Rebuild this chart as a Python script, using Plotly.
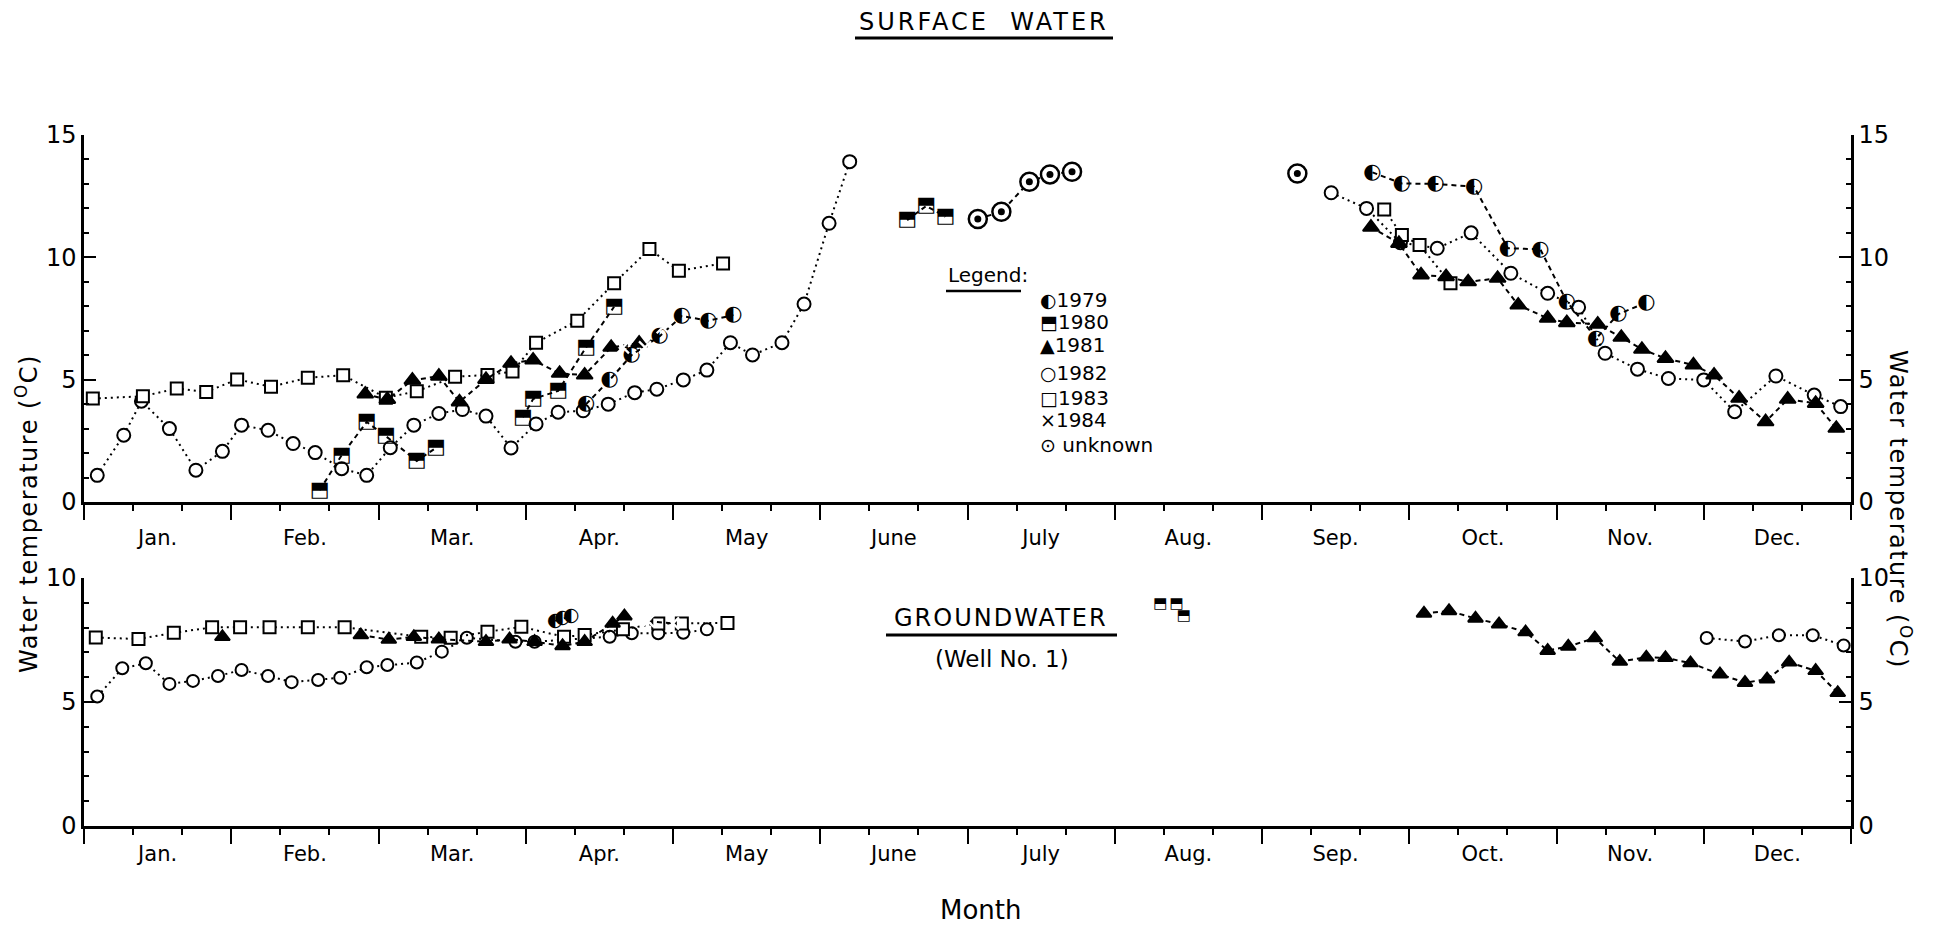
import plotly.graph_objects as go

# ---------------- data (x = position in months from 1 Jan, 0..12; y = water temperature °C) ----------------
month_labels = ["Jan.", "Feb.", "Mar.", "Apr.", "May", "June", "July", "Aug.", "Sep.", "Oct.", "Nov.", "Dec."]

sw_1979_x = [3.41, 3.57, 3.72, 3.91, 4.06, 4.24, 4.41, None, 8.75, 8.95, 9.18, 9.44, 9.67, 9.89, 10.07, 10.27, 10.42, 10.61]
sw_1979_y = [4.0, 4.99, 6.01, 6.78, 7.60, 7.41, 7.64, None, 13.47, 13.02, 13.0, 12.89, 10.37, 10.33, 8.19, 6.69, 7.68, 8.15]

sw_1980_x = [1.60, 1.75, 1.92, 2.05, 2.26, 2.39, None, 2.98, 3.05, 3.22, 3.41, 3.60, None, 5.59, 5.72, 5.85]
sw_1980_y = [0.48, 1.91, 3.27, 2.69, 1.68, 2.21, None, 3.46, 4.21, 4.54, 6.32, 7.98, None, 11.52, 12.10, 11.66]

sw_1981_x = [1.91, 2.06, 2.23, 2.41, 2.55, 2.73, 2.90, 3.05, 3.23, 3.40, 3.58, 3.77, None,
             8.74, 8.93, 9.08, 9.25, 9.40, 9.60, 9.74, 9.94, 10.07, 10.28, 10.44, 10.58, 10.74, 10.93,
             11.07, 11.24, 11.42, 11.57, 11.76, 11.90]
sw_1981_y = [4.41, 4.19, 4.98, 5.14, 4.09, 5.01, 5.67, 5.80, 5.26, 5.19, 6.32, 6.49, None,
             11.23, 10.57, 9.28, 9.21, 9.0, 9.14, 8.05, 7.51, 7.33, 7.27, 6.73, 6.24, 5.87, 5.60,
             5.19, 4.24, 3.28, 4.20, 4.03, 3.01]

sw_1982_x = [0.09, 0.27, 0.39, 0.58, 0.76, 0.94, 1.07, 1.25, 1.42, 1.57, 1.75, 1.92, 2.08, 2.24, 2.41, 2.57,
             2.73, 2.90, 3.07, 3.22, 3.39, 3.56, 3.74, 3.89, 4.07, 4.23, 4.39, 4.54, 4.74, 4.89, 5.06, 5.20, None,
             8.47, 8.71, 8.94, 9.19, 9.42, 9.69, 9.94, 10.15, 10.33, 10.55, 10.76, 11.0, 11.21, 11.49, 11.75, 11.93]
sw_1982_y = [1.09, 2.73, 4.12, 3.00, 1.30, 2.07, 3.14, 2.93, 2.39, 2.02, 1.36, 1.09, 2.22, 3.14, 3.62, 3.78,
             3.51, 2.21, 3.19, 3.67, 3.73, 4.0, 4.47, 4.61, 4.99, 5.39, 6.51, 6.01, 6.51, 8.09, 11.39, 13.91, None,
             12.64, 12.0, 10.6, 10.37, 11.0, 9.35, 8.53, 7.96, 6.08, 5.43, 5.05, 4.99, 3.69, 5.15, 4.37, 3.90]

sw_1983_x = [0.06, 0.40, 0.63, 0.83, 1.04, 1.27, 1.52, 1.76, 2.05, 2.26, 2.52, 2.74, 2.91, 3.07, 3.35, 3.60,
             3.84, 4.04, 4.34, None, 8.83, 8.95, 9.07, 9.28]
sw_1983_y = [4.23, 4.32, 4.64, 4.50, 5.01, 4.71, 5.08, 5.18, 4.26, 4.53, 5.12, 5.19, 5.33, 6.51, 7.41, 8.94,
             10.34, 9.45, 9.75, None, 11.96, 10.91, 10.5, 8.94]

sw_1984_x = [3.66, 3.81, 3.93]
sw_1984_y = [6.32, 6.32, 7.14]

sw_unk_x = [6.07, 6.23, 6.42, 6.56, 6.71, None, 8.24]
sw_unk_y = [11.57, 11.86, 13.09, 13.39, 13.50, None, 13.43]

gw_1979_x = [3.20, 3.25, 3.31]
gw_1979_y = [8.27, 8.37, 8.46]

gw_1980_x = [7.31, 7.42, 7.47]
gw_1980_y = [8.95, 8.94, 8.44]

gw_1981_x = [0.94, None, 1.88, 2.07, 2.24, 2.41, 2.73, 2.89, 3.06, 3.25, 3.40, 3.59, 3.67, None,
             9.10, 9.27, 9.45, 9.61, 9.79, 9.94, 10.08, 10.26, 10.43, 10.61, 10.74, 10.91, 11.11,
             11.28, 11.43, 11.58, 11.76, 11.91]
gw_1981_y = [7.63, None, 7.70, 7.52, 7.63, 7.53, 7.43, 7.53, 7.43, 7.26, 7.43, 8.17, 8.46, None,
             8.57, 8.67, 8.37, 8.14, 7.82, 7.07, 7.24, 7.58, 6.63, 6.80, 6.78, 6.57, 6.12,
             5.78, 5.92, 6.60, 6.26, 5.37]

gw_1982_x = [0.09, 0.26, 0.42, 0.58, 0.74, 0.91, 1.07, 1.25, 1.41, 1.59, 1.74, 1.92, 2.06, 2.26, 2.43, 2.60,
             2.93, 3.06, 3.57, 3.72, 3.90, 4.07, 4.23, None, 11.02, 11.28, 11.51, 11.74, 11.95]
gw_1982_y = [5.22, 6.36, 6.56, 5.73, 5.85, 6.05, 6.29, 6.05, 5.80, 5.89, 5.98, 6.40, 6.49, 6.59, 7.03, 7.59,
             7.43, 7.43, 7.63, 7.77, 7.77, 7.79, 7.93, None, 7.58, 7.44, 7.69, 7.69, 7.28]

gw_1983_x = [0.08, 0.37, 0.61, 0.87, 1.06, 1.26, 1.52, 1.77, 2.29, 2.49, 2.74, 2.97, 3.26, 3.40, 3.66, 3.90, 4.06, 4.37]
gw_1983_y = [7.60, 7.54, 7.79, 8.01, 8.01, 8.01, 8.01, 8.01, 7.63, 7.59, 7.83, 8.03, 7.63, 7.70, 7.93, 8.17, 8.17, 8.19]

gw_1984_x = [3.83, 4.00]
gw_1984_y = [8.26, 8.17]

legend_rows = [("◐", "1979"), ("⬒", "1980"), ("▲", "1981"), ("○", "1982"), ("□", "1983"), ("×", "1984"), ("⊙", " unknown")]

# ---------------- layout geometry ----------------
W, H = 1948, 932
ML, MR, MT, MB = 84, 97, 135, 106
PW, PH = W - ML - MR, H - MT - MB
FONT = "DejaVu Sans"


def px(xp):
    return (xp - ML) / PW


def py(yp):
    return (H - MB - yp) / PH


top_dom = [py(502), 1.0]
bot_dom = [0.0, py(578)]

DOT = "2px,4px"
DASH = "5px,4px"

fig = go.Figure()


def line_marker(x, y, xa, ya, dash, symbol, size, lw=2.0, fill="white", mlw=2.0):
    fig.add_trace(go.Scatter(
        x=x, y=y, xaxis=xa, yaxis=ya, mode="lines+markers",
        line=dict(color="black", width=lw, dash=dash), connectgaps=False,
        marker=dict(symbol=symbol, size=size, color=fill, line=dict(color="black", width=mlw)),
        showlegend=False, hoverinfo="skip"))


def line_text(x, y, xa, ya, dash, glyph, fsize, lw=2.0):
    fig.add_trace(go.Scatter(
        x=x, y=y, xaxis=xa, yaxis=ya, mode="lines+text",
        line=dict(color="black", width=lw, dash=dash), connectgaps=False,
        text=[glyph if v is not None else " " for v in x], textposition="middle center",
        textfont=dict(family=FONT, size=fsize, color="black"),
        showlegend=False, hoverinfo="skip"))


# ---- surface water (x / y) ----
line_marker(sw_1982_x, sw_1982_y, "x", "y", DOT, "circle", 13)
line_marker(sw_1983_x, sw_1983_y, "x", "y", DOT, "square", 12)
line_marker(sw_1981_x, sw_1981_y, "x", "y", DASH, "triangle-up", 14, fill="black")
line_text(sw_1980_x, sw_1980_y, "x", "y", DASH, "⬒", 21)
line_text(sw_1979_x, sw_1979_y, "x", "y", DASH, "◐", 21)
line_marker(sw_1984_x, sw_1984_y, "x", "y", DASH, "x-thin-open", 12, mlw=2.2)
line_marker(sw_unk_x, sw_unk_y, "x", "y", DASH, "circle", 18, mlw=2.5)
fig.add_trace(go.Scatter(x=sw_unk_x, y=sw_unk_y, xaxis="x", yaxis="y", mode="markers",
                         marker=dict(symbol="circle", size=7, color="black"),
                         showlegend=False, hoverinfo="skip"))

# ---- groundwater (x2 / y3) ----
line_marker(gw_1982_x, gw_1982_y, "x2", "y3", DOT, "circle", 12)
line_marker(gw_1983_x, gw_1983_y, "x2", "y3", DOT, "square", 12)
line_marker(gw_1981_x, gw_1981_y, "x2", "y3", DASH, "triangle-up", 13, fill="black")
line_text(gw_1979_x, gw_1979_y, "x2", "y3", DASH, "◐", 19)
line_text(gw_1980_x, gw_1980_y, "x2", "y3", "solid", "⬒", 15, lw=0.01)
line_marker(gw_1984_x, gw_1984_y, "x2", "y3", DASH, "x-thin-open", 12, mlw=2.2)

# invisible traces so the overlay axes are drawn
for xa, ya in [("x3", "y"), ("x", "y2"), ("x4", "y3"), ("x2", "y4")]:
    fig.add_trace(go.Scatter(x=[0.0], y=[0.0], xaxis=xa, yaxis=ya, mode="markers",
                             marker=dict(opacity=0), showlegend=False, hoverinfo="skip"))

thirds = [k / 3 for k in range(37) if k % 3]
centers = [i + 0.5 for i in range(12)]

xbase = dict(range=[0, 12], showgrid=False, zeroline=False, showline=True, linecolor="black", linewidth=2.5,
             ticks="outside", tickvals=list(range(13)), ticklen=15, tickwidth=2, tickcolor="black",
             showticklabels=False,
             minor=dict(tickvals=thirds, ticks="outside", ticklen=6, tickwidth=2, tickcolor="black"))
xlab = dict(range=[0, 12], showgrid=False, zeroline=False, showline=False, ticks="",
            tickvals=centers, ticktext=month_labels, tickfont=dict(family=FONT, size=21, color="black"))


def ybase(rng, tv, side):
    return dict(range=rng, tickvals=tv, showgrid=False, zeroline=False, showline=True, linecolor="black",
                linewidth=2.5, ticks="inside", ticklen=12, tickwidth=2, tickcolor="black", side=side,
                tickfont=dict(family=FONT, size=24, color="black"),
                minor=dict(dtick=1, tick0=0, ticks="inside", ticklen=5, tickwidth=2, tickcolor="black"))


fig.update_layout(
    width=W, height=H, margin=dict(l=ML, r=MR, t=MT, b=MB),
    paper_bgcolor="white", plot_bgcolor="white", showlegend=False,
    font=dict(family=FONT, color="black"),
    xaxis=dict(domain=[0, 1], anchor="y", **xbase),
    xaxis3=dict(overlaying="x", anchor="y", side="bottom", ticklabelstandoff=21, **xlab),
    xaxis2=dict(domain=[0, 1], anchor="y3", **xbase),
    xaxis4=dict(overlaying="x2", anchor="y3", side="bottom", ticklabelstandoff=13, **xlab),
    yaxis=dict(domain=top_dom, anchor="x", **ybase([0, 15], [0, 5, 10, 15], "left")),
    yaxis2=dict(overlaying="y", anchor="x", **ybase([0, 15], [0, 5, 10, 15], "right")),
    yaxis3=dict(domain=bot_dom, anchor="x2", **ybase([0, 10], [0, 5, 10], "left")),
    yaxis4=dict(overlaying="y3", anchor="x2", **ybase([0, 10], [0, 5, 10], "right")),
)

ann = []


def add_text(text, xp, yp, size, xanchor="center", angle=0):
    ann.append(dict(text=text, x=px(xp), y=py(yp), xref="paper", yref="paper", showarrow=False,
                    xanchor=xanchor, yanchor="middle", textangle=angle,
                    font=dict(family=FONT, size=size, color="black")))


add_text('<span style="letter-spacing:3px">SURFACE  WATER</span>', 984, 22, 24)
add_text('<span style="letter-spacing:2px">GROUNDWATER</span>', 1001, 618, 24)
add_text("(Well No. 1)", 1002, 659, 23)
add_text("Legend:", 946, 275, 20, xanchor="left")
leg_y = [300, 322, 345, 373, 398, 420, 445]
for (g, lab), yy in zip(legend_rows, leg_y):
    add_text('<span style="font-size:19px">%s</span>%s' % (g, lab), 1038, yy, 20, xanchor="left")
add_text('<span style="letter-spacing:1.5px">Water temperature (<sup>O</sup>C)</span>', 27, 514, 24, angle=-90)
add_text('<span style="letter-spacing:1.5px">Water temperature (<sup>O</sup>C)</span>', 1900, 510, 24, angle=90)
add_text("Month", 981, 910, 26)
fig.update_layout(annotations=ann)

shapes = []
for x0, x1, yy, wdt in [(855, 1113, 38, 3), (946, 1021, 291, 2.5), (886, 1117, 635, 3)]:
    shapes.append(dict(type="line", xref="paper", yref="paper", x0=px(x0), x1=px(x1), y0=py(yy), y1=py(yy),
                       line=dict(color="black", width=wdt)))
fig.update_layout(shapes=shapes)

fig.write_html("out.html")
